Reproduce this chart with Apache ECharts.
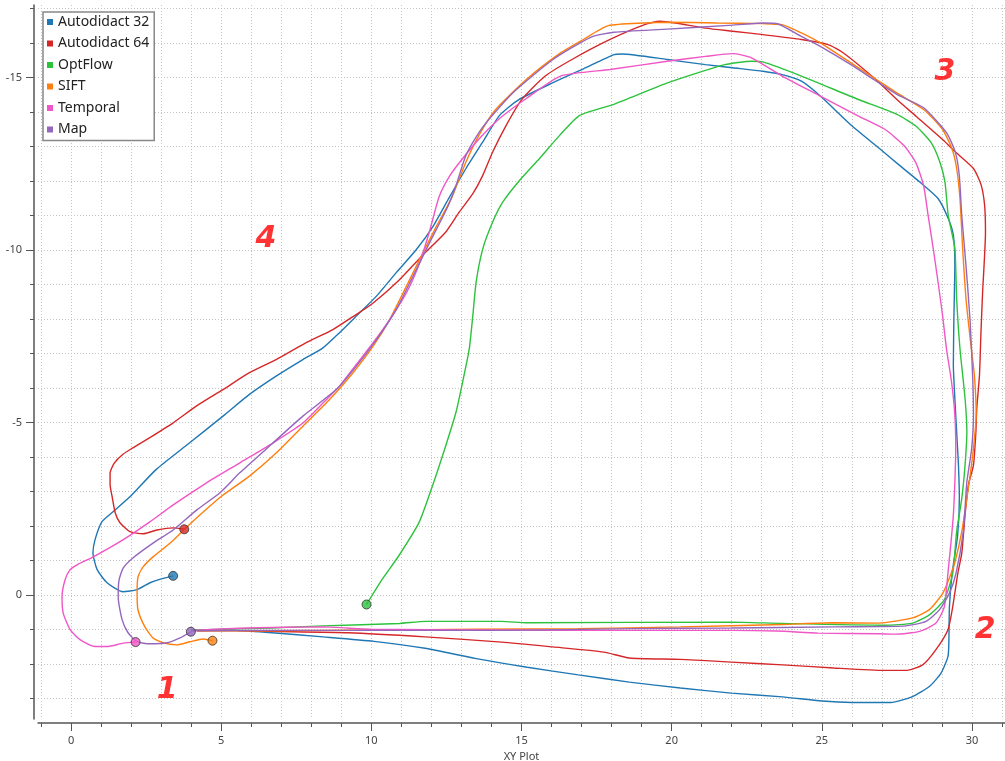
<!DOCTYPE html>
<html>
<head>
<meta charset="utf-8">
<title>XY Plot</title>
<script src="https://cdn.jsdelivr.net/npm/echarts@6/dist/echarts.min.js"></script>
<style>
  html, body { margin: 0; padding: 0; background: #fff; }
  #chart { width: 1005px; height: 761px; }
</style>
</head>
<body>
<div id="chart"></div>
<script>
  // trajectories as [x, y]; the first sample of each one is its start marker
  const autodidact32 = [
    [3.40,-0.55],[2.95,-0.45],[2.63,-0.35],[2.20,-0.15],[1.73,-0.09],[1.20,-0.35],[0.87,-0.73],[0.73,-1.22],
    [0.80,-1.60],[1.03,-2.12],[1.40,-2.41],[1.96,-2.84],[2.83,-3.63],[3.94,-4.40],[5.06,-5.18],[5.94,-5.81],
    [6.83,-6.34],[7.72,-6.82],[8.39,-7.16],[8.94,-7.60],[9.50,-8.08],[10.17,-8.66],[10.83,-9.34],[11.50,-10.01],
    [12.06,-10.69],[12.55,-11.45],[13.15,-12.36],[13.71,-13.13],[14.27,-13.90],[14.90,-14.35],[16.05,-14.85],
    [17.06,-15.25],[18.08,-15.66],[18.34,-15.68],[19.86,-15.52],[21.13,-15.37],[22.03,-15.28],[23.04,-15.18],
    [23.68,-15.08],[24.32,-14.89],[24.95,-14.46],[26.00,-13.60],[26.92,-12.94],[27.59,-12.45],[28.26,-11.97],
    [28.87,-11.49],[29.21,-10.91],[29.38,-10.43],[29.43,-9.56],[29.40,-8.11],[29.38,-6.66],[29.43,-5.69],
    [29.49,-4.72],[29.55,-3.76],[29.58,-2.79],[29.52,-1.70],[29.34,-0.63],[29.25,0.34],[29.23,1.40],[29.20,1.79],
    [28.97,2.27],[28.58,2.66],[28.02,2.95],[27.30,3.12],[26.00,3.12],[25.00,3.08],[23.69,2.96],[21.99,2.85],
    [20.29,2.70],[18.59,2.53],[16.89,2.32],[15.19,2.10],[13.49,1.85],[11.79,1.55],[10.09,1.35],[8.39,1.22],
    [6.69,1.10],[5.50,1.03],[4.65,1.02],[4.10,1.03]
  ];
  const autodidact64 = [
    [3.77,-1.90],[3.40,-1.94],[2.86,-1.88],[2.40,-1.77],[1.96,-1.83],[1.63,-2.09],[1.47,-2.38],[1.37,-2.84],
    [1.30,-3.20],[1.30,-3.53],[1.44,-3.82],[1.72,-4.07],[2.06,-4.26],[2.61,-4.55],[3.39,-4.98],[4.17,-5.47],
    [5.06,-5.95],[5.94,-6.44],[6.83,-6.82],[7.83,-7.31],[8.72,-7.69],[9.36,-8.05],[10.03,-8.44],[10.92,-9.12],
    [11.70,-9.84],[12.48,-10.52],[12.93,-11.10],[13.38,-11.63],[13.71,-12.16],[14.04,-12.84],[14.49,-13.61],
    [15.00,-14.35],[15.79,-15.04],[16.68,-15.52],[17.95,-16.10],[19.10,-16.53],[19.61,-16.63],[20.12,-16.58],
    [21.13,-16.43],[22.03,-16.34],[23.04,-16.24],[24.32,-16.10],[25.21,-15.95],[25.72,-15.71],[26.73,-14.99],
    [27.50,-14.36],[28.13,-13.88],[29.02,-13.20],[29.50,-12.80],[30.05,-12.36],[30.30,-11.90],[30.42,-11.30],
    [30.45,-10.50],[30.40,-9.50],[30.36,-8.88],[30.30,-7.62],[30.25,-6.37],[30.16,-5.40],[30.13,-4.72],
    [30.05,-3.76],[29.88,-3.18],[29.77,-2.31],[29.66,-1.20],[29.53,-0.63],[29.36,0.34],[29.20,1.01],[28.80,1.59],
    [28.36,2.03],[27.80,2.19],[27.10,2.19],[25.39,2.12],[23.69,2.03],[21.99,1.95],[20.29,1.87],[18.59,1.83],
    [17.74,1.66],[16.04,1.51],[14.34,1.37],[11.79,1.22],[9.24,1.10],[6.69,1.06],[4.99,1.03],[4.20,1.04]
  ];
  const optFlow = [
    [9.84,0.28],[10.37,-0.46],[10.92,-1.14],[11.59,-2.10],[12.04,-3.17],[12.48,-4.33],[12.82,-5.30],[13.04,-6.17],
    [13.26,-7.13],[13.38,-8.10],[13.49,-9.07],[13.71,-10.03],[14.04,-10.81],[14.38,-11.39],[14.94,-12.02],
    [15.60,-12.65],[16.27,-13.32],[16.94,-13.90],[18.08,-14.22],[19.86,-14.84],[21.77,-15.37],[22.66,-15.47],
    [23.04,-15.45],[24.32,-15.04],[26.22,-14.36],[27.50,-13.93],[28.13,-13.59],[28.64,-13.11],[28.93,-12.55],
    [29.10,-11.97],[29.21,-11.00],[29.43,-10.04],[29.49,-8.59],[29.60,-7.14],[29.77,-5.69],[29.83,-4.72],
    [29.77,-3.76],[29.66,-2.79],[29.49,-1.83],[29.36,-0.63],[29.08,0.14],[28.58,0.58],[28.02,0.82],[27.10,0.88],
    [23.69,0.83],[21.99,0.79],[15.19,0.81],[14.34,0.77],[11.79,0.77],[10.94,0.83],[8.39,0.90],[6.69,0.96],
    [4.99,1.00],[4.00,1.02]
  ];
  const sift = [
    [4.71,1.33],[4.40,1.28],[3.96,1.36],[3.53,1.45],[3.06,1.39],[2.73,1.25],[2.46,0.93],[2.23,0.44],[2.20,-0.06],
    [2.23,-0.52],[2.40,-0.81],[2.73,-1.10],[3.30,-1.50],[3.80,-1.92],[4.40,-2.40],[5.00,-2.85],[5.94,-3.44],
    [6.83,-4.11],[7.72,-4.89],[8.61,-5.66],[9.39,-6.44],[10.06,-7.21],[10.61,-7.98],[11.17,-8.95],[11.72,-9.92],
    [12.17,-10.69],[12.67,-11.50],[13.15,-12.55],[13.60,-13.35],[14.14,-14.07],[15.16,-14.94],[16.30,-15.71],
    [17.06,-16.10],[17.89,-16.50],[19.10,-16.58],[19.86,-16.60],[21.52,-16.58],[23.04,-16.56],[23.68,-16.53],
    [24.32,-16.29],[24.95,-16.00],[25.97,-15.42],[26.73,-14.99],[27.50,-14.55],[28.39,-14.07],[29.02,-13.49],
    [29.34,-12.92],[29.49,-12.36],[29.60,-11.49],[29.69,-10.04],[29.80,-8.59],[29.94,-7.43],[30.08,-6.37],
    [30.14,-5.21],[30.05,-4.24],[29.94,-3.47],[29.83,-2.79],[29.66,-1.83],[29.45,-1.00],[29.31,-0.63],
    [29.03,-0.05],[28.58,0.43],[28.02,0.67],[26.90,0.82],[25.39,0.81],[23.69,0.86],[20.29,0.93],[16.89,0.98],
    [13.49,1.00],[10.09,1.02],[6.69,1.04],[4.20,1.05]
  ];
  const temporal = [
    [2.15,1.37],[1.74,1.40],[1.20,1.50],[0.74,1.49],[0.30,1.30],[-0.03,1.01],[-0.26,0.53],[-0.30,0.06],
    [-0.20,-0.43],[-0.03,-0.73],[0.20,-0.87],[0.74,-1.10],[1.74,-1.60],[2.60,-2.10],[3.39,-2.60],[4.50,-3.24],
    [5.61,-3.82],[6.72,-4.40],[7.72,-4.98],[8.39,-5.56],[8.94,-6.05],[9.50,-6.68],[10.06,-7.31],[10.61,-7.98],
    [11.17,-8.76],[11.61,-9.63],[11.94,-10.55],[12.26,-11.55],[12.62,-12.16],[13.04,-12.65],[13.60,-13.23],
    [14.27,-13.81],[15.16,-14.39],[16.30,-15.04],[17.95,-15.23],[19.86,-15.47],[21.13,-15.61],[22.03,-15.69],
    [22.66,-15.57],[23.68,-15.04],[24.95,-14.46],[26.22,-13.88],[27.11,-13.49],[27.75,-13.01],[28.13,-12.53],
    [28.39,-11.86],[28.54,-11.00],[28.71,-10.04],[28.87,-9.07],[29.02,-8.11],[29.15,-7.14],[29.32,-6.17],
    [29.43,-5.21],[29.46,-4.24],[29.43,-3.27],[29.38,-2.31],[29.31,-1.60],[29.20,-0.63],[29.08,0.34],[28.80,0.82],
    [28.25,1.06],[27.46,1.14],[26.90,1.13],[24.88,1.11],[23.50,1.05],[21.99,1.03],[18.00,1.03],[14.00,1.02],
    [10.00,1.00],[8.39,0.93],[5.84,0.96],[4.00,1.03]
  ];
  const map = [
    [3.99,1.07],[3.63,1.25],[3.20,1.39],[2.63,1.42],[2.20,1.36],[1.90,1.10],[1.70,0.72],[1.57,0.06],[1.60,-0.43],
    [1.74,-0.78],[2.06,-1.07],[2.73,-1.50],[3.40,-1.88],[4.20,-2.47],[4.96,-2.96],[5.61,-3.53],[6.72,-4.40],
    [7.72,-5.18],[8.83,-5.95],[9.50,-6.63],[10.17,-7.40],[10.83,-8.27],[11.39,-9.24],[11.94,-10.21],[12.50,-11.17],
    [12.82,-11.87],[13.15,-12.74],[13.60,-13.42],[14.01,-13.88],[14.77,-14.60],[16.05,-15.52],[17.32,-16.17],
    [18.08,-16.31],[19.86,-16.40],[21.90,-16.51],[23.04,-16.58],[23.55,-16.55],[24.32,-16.19],[24.95,-15.90],
    [25.97,-15.37],[26.73,-14.94],[27.50,-14.51],[28.39,-14.12],[29.15,-13.40],[29.45,-12.82],[29.58,-12.14],
    [29.66,-11.00],[29.80,-9.56],[29.94,-7.91],[30.03,-6.17],[30.05,-5.21],[29.99,-4.24],[29.83,-3.27],
    [29.71,-1.83],[29.47,-0.63],[29.25,-0.05],[28.92,0.43],[28.47,0.77],[27.80,0.90],[26.90,0.92],[25.39,0.93],
    [21.99,0.96],[18.59,0.98],[14.34,1.03],[10.09,1.03],[6.69,1.03],[4.00,1.04]
  ];

  const seriesNames = ['Autodidact 32', 'Autodidact 64', 'OptFlow', 'SIFT', 'Temporal', 'Map'];
  const seriesColors = ['#1f77b4', '#d62728', '#2cc23c', '#ff7f0e', '#f056c6', '#9467bd'];
  const trajectories = [autodidact32, autodidact64, optFlow, sift, temporal, map];

  // region numbers written on the plot: [x, y, text]
  const regionLabels = [[3.2, 2.76, '1'], [30.44, 1.02, '2'], [29.1, -15.14, '3'], [6.49, -10.3, '4']];

  const xGridTicks = [-1,0,1,2,3,4,5,6,7,8,9,10,11,12,13,14,15,16,17,18,19,20,21,22,23,24,25,26,27,28,29,30,31];
  const xLabels = [0, 5, 10, 15, 20, 25, 30];
  const yGridTicks = [-17,-16,-15,-14,-13,-12,-11,-10,-9,-8,-7,-6,-5,-4,-3,-2,-1,0,1,2,3];
  const yLabels = [-15, -10, -5, 0];

  const axisColor = '#555';
  const font = 'Noto Sans';

  const lineSeries = trajectories.map((pts, i) => ({
    name: seriesNames[i],
    type: 'line',
    data: pts,
    symbol: 'none',
    smooth: 0.2,
    color: seriesColors[i],
    lineStyle: { width: 1.4, color: seriesColors[i] }
  }));

  const startSeries = {
    type: 'scatter',
    symbol: 'circle',
    symbolSize: 9,
    z: 5,
    data: trajectories.map((pts, i) => ({
      value: pts[0],
      itemStyle: { color: seriesColors[i], borderColor: '#333', borderWidth: 1 }
    }))
  };

  const labelSeries = {
    type: 'scatter',
    symbol: 'rect',
    symbolSize: 2,
    itemStyle: { color: 'rgba(0,0,0,0)' },
    silent: true,
    z: 6,
    data: regionLabels,
    label: {
      show: true,
      position: 'inside',
      formatter: p => p.value[2],
      color: '#ff0000',
      fontSize: 30,
      fontWeight: 'bold',
      fontStyle: 'italic',
      fontFamily: 'DejaVu Sans'
    }
  };

  const option = {
    backgroundColor: '#fff',
    animation: false,
    grid: { left: 38, right: 0, top: 5, bottom: 42, outerBoundsMode: 'none', containLabel: false },
    legend: {
      data: seriesNames,
      orient: 'vertical',
      left: 43,
      top: 12,
      icon: 'rect',
      itemWidth: 6,
      itemHeight: 6,
      itemGap: 5.5,
      padding: [2, 5, 3, 4],
      backgroundColor: '#fff',
      borderColor: '#888',
      borderWidth: 1.5,
      textStyle: { fontFamily: font, fontSize: 14, color: '#222', lineHeight: 16 }
    },
    xAxis: [
      {
        type: 'value', min: -1.1, max: 31.1, position: 'bottom', offset: 4,
        name: 'XY Plot', nameLocation: 'middle', nameGap: 26,
        nameTextStyle: { fontFamily: font, fontSize: 11, color: '#444' },
        axisLine: { onZero: false, lineStyle: { color: axisColor, width: 1.5 } },
        axisTick: { customValues: xGridTicks, length: 4, lineStyle: { color: axisColor } },
        axisLabel: { customValues: xLabels, margin: 12, fontFamily: font, fontSize: 11, color: '#444' },
        splitLine: { show: true, lineStyle: { color: '#c4c4c4', type: [1, 2] } }
      },
      {
        type: 'value', min: -1.1, max: 31.1, position: 'bottom', offset: 4,
        axisLine: { show: false, onZero: false },
        axisTick: { customValues: xLabels, length: 8, lineStyle: { color: axisColor } },
        axisLabel: { show: false },
        splitLine: { show: false }
      }
    ],
    yAxis: [
      {
        type: 'value', inverse: true, min: -17.1, max: 3.6, position: 'left', offset: 4,
        axisLine: { show: true, onZero: false, lineStyle: { color: axisColor, width: 1.5 } },
        axisTick: { show: true, customValues: yGridTicks, length: 4, lineStyle: { color: axisColor } },
        axisLabel: { customValues: yLabels, margin: 12, fontFamily: font, fontSize: 11, color: '#444' },
        splitLine: { show: true, lineStyle: { color: '#c4c4c4', type: [1, 2] } }
      },
      {
        type: 'value', inverse: true, min: -17.1, max: 3.6, position: 'left', offset: 4,
        axisLine: { show: false, onZero: false },
        axisTick: { show: true, customValues: yLabels, length: 8, lineStyle: { color: axisColor } },
        axisLabel: { show: false },
        splitLine: { show: false }
      }
    ],
    series: [...lineSeries, startSeries, labelSeries]
  };

  const chart = echarts.init(document.getElementById('chart'));
  chart.setOption(option);
</script>
</body>
</html>
